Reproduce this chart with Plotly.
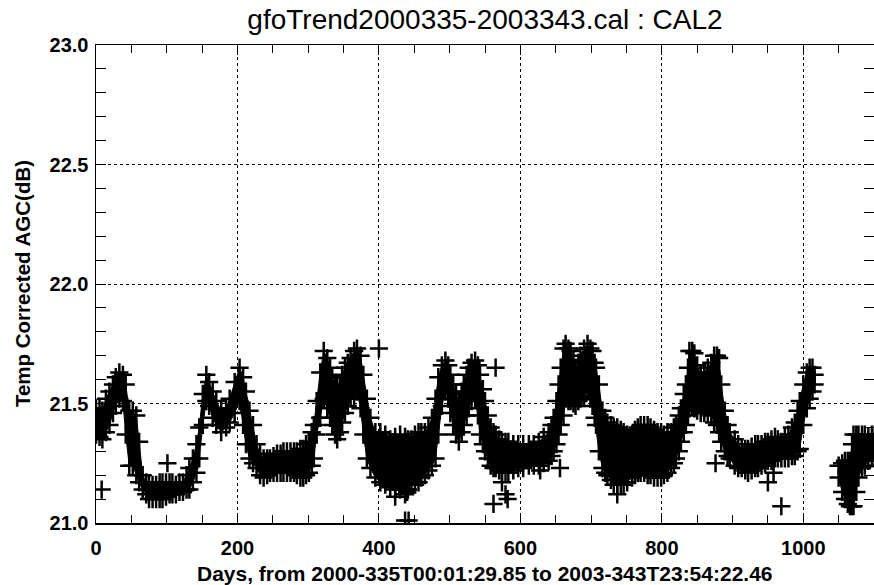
import plotly.graph_objects as go

# ---- data (days since start, dB) ----
days_a = [0, 5, 9, 14, 19, 24, 28, 33, 38, 42,
          47, 52, 57, 61, 66, 71, 75, 80, 85, 90,
          94, 99, 104, 108, 113, 118, 123, 128, 132, 137,
          142, 146, 151, 156, 160, 165, 170, 177, 184, 189,
          196, 203, 208, 212, 217, 222, 227, 232, 237, 242,
          246, 251, 256, 261, 265, 270, 275, 280, 284, 289,
          293, 297, 301, 305, 308, 312, 317, 322, 327, 331,
          334, 338, 341, 345, 348, 352, 356, 360, 365, 369,
          374, 378, 383, 388, 395, 402, 409, 416, 423, 430,
          437, 441, 446, 451, 456, 460, 465, 470, 475, 480,
          484, 489, 494, 498, 501, 505, 509, 513, 517, 520,
          524, 527, 531, 536, 540, 543, 547, 550, 554, 558,
          562, 565, 570, 574, 579, 583, 590, 597, 604, 612,
          619, 626, 633, 640, 644, 647, 651, 654, 657, 661,
          664, 668, 671, 675, 678, 682, 685, 690, 695, 699,
          702, 705, 707, 711, 716, 720, 723, 728, 732, 737,
          742, 746, 751, 758, 762, 766, 770, 775, 780, 784,
          789, 794, 799, 803, 808, 813, 817, 820, 824, 827,
          831, 834, 837, 839, 843, 846, 850, 855, 860, 865,
          870, 874, 878, 881, 884, 889, 893, 896, 903, 908,
          913, 918, 922, 927, 932, 936, 941, 946, 950, 955,
          960, 964, 969, 974, 979, 984, 988, 992, 995, 1000,
          1005, 1009, 1013, 1016]

hi_a = [21.48, 21.48, 21.47, 21.52, 21.55, 21.58, 21.61, 21.63, 21.62, 21.58,
        21.47, 21.47, 21.45, 21.34, 21.20, 21.17, 21.16, 21.16, 21.16, 21.17,
        21.17, 21.17, 21.17, 21.17, 21.16, 21.17, 21.17, 21.20, 21.23, 21.27,
        21.33, 21.40, 21.54, 21.62, 21.59, 21.55, 21.51, 21.47, 21.48, 21.52,
        21.59, 21.65, 21.61, 21.55, 21.47, 21.41, 21.33, 21.29, 21.27, 21.27,
        21.27, 21.28, 21.29, 21.29, 21.30, 21.30, 21.30, 21.30, 21.30, 21.31,
        21.31, 21.33, 21.34, 21.38, 21.41, 21.51, 21.63, 21.72, 21.69, 21.65,
        21.61, 21.58, 21.57, 21.58, 21.62, 21.65, 21.67, 21.69, 21.72, 21.73,
        21.70, 21.62, 21.52, 21.44, 21.38, 21.38, 21.37, 21.35, 21.36, 21.37,
        21.36, 21.35, 21.35, 21.37, 21.38, 21.38, 21.38, 21.40, 21.44, 21.52,
        21.61, 21.66, 21.68, 21.66, 21.62, 21.58, 21.54, 21.51, 21.55, 21.58,
        21.62, 21.65, 21.67, 21.68, 21.66, 21.62, 21.56, 21.51, 21.45, 21.40,
        21.38, 21.37, 21.35, 21.34, 21.34, 21.34, 21.33, 21.33, 21.33, 21.33,
        21.33, 21.34, 21.36, 21.38, 21.41, 21.44, 21.51, 21.58, 21.65, 21.73,
        21.75, 21.73, 21.72, 21.68, 21.65, 21.67, 21.70, 21.73, 21.75, 21.73,
        21.72, 21.67, 21.65, 21.58, 21.47, 21.44, 21.42, 21.41, 21.40, 21.40,
        21.39, 21.38, 21.37, 21.37, 21.39, 21.40, 21.41, 21.41, 21.41, 21.40,
        21.39, 21.38, 21.38, 21.37, 21.38, 21.38, 21.40, 21.41, 21.45, 21.48,
        21.54, 21.58, 21.65, 21.72, 21.72, 21.71, 21.66, 21.62, 21.63, 21.65,
        21.67, 21.70, 21.70, 21.69, 21.58, 21.47, 21.41, 21.38, 21.35, 21.33,
        21.31, 21.31, 21.31, 21.32, 21.33, 21.33, 21.33, 21.34, 21.34, 21.35,
        21.36, 21.35, 21.34, 21.36, 21.37, 21.40, 21.42, 21.47, 21.51, 21.58,
        21.63, 21.65, 21.65, 21.62]

lo_a = [21.37, 21.36, 21.35, 21.38, 21.41, 21.46, 21.49, 21.52, 21.51, 21.37,
        21.24, 21.24, 21.20, 21.17, 21.14, 21.12, 21.10, 21.10, 21.10, 21.10,
        21.10, 21.11, 21.12, 21.12, 21.12, 21.13, 21.13, 21.14, 21.14, 21.17,
        21.21, 21.27, 21.41, 21.51, 21.49, 21.44, 21.41, 21.38, 21.40, 21.42,
        21.46, 21.51, 21.41, 21.33, 21.27, 21.25, 21.23, 21.20, 21.19, 21.20,
        21.21, 21.21, 21.21, 21.21, 21.21, 21.21, 21.21, 21.21, 21.20, 21.19,
        21.19, 21.20, 21.21, 21.24, 21.27, 21.37, 21.44, 21.52, 21.48, 21.44,
        21.41, 21.37, 21.35, 21.38, 21.42, 21.46, 21.49, 21.52, 21.53, 21.55,
        21.48, 21.37, 21.27, 21.23, 21.19, 21.17, 21.16, 21.15, 21.14, 21.14,
        21.14, 21.14, 21.16, 21.16, 21.17, 21.19, 21.20, 21.22, 21.24, 21.27,
        21.37, 21.49, 21.55, 21.52, 21.46, 21.41, 21.37, 21.34, 21.38, 21.41,
        21.45, 21.48, 21.51, 21.52, 21.45, 21.37, 21.33, 21.30, 21.27, 21.24,
        21.23, 21.23, 21.22, 21.21, 21.21, 21.21, 21.22, 21.23, 21.23, 21.24,
        21.24, 21.24, 21.25, 21.26, 21.28, 21.30, 21.33, 21.37, 21.41, 21.45,
        21.52, 21.51, 21.51, 21.50, 21.49, 21.51, 21.52, 21.53, 21.55, 21.52,
        21.49, 21.44, 21.41, 21.30, 21.23, 21.21, 21.20, 21.18, 21.16, 21.16,
        21.16, 21.16, 21.17, 21.19, 21.20, 21.21, 21.21, 21.21, 21.20, 21.20,
        21.19, 21.19, 21.19, 21.20, 21.21, 21.23, 21.25, 21.27, 21.30, 21.34,
        21.38, 21.41, 21.45, 21.48, 21.49, 21.48, 21.47, 21.46, 21.46, 21.46,
        21.45, 21.42, 21.41, 21.38, 21.34, 21.30, 21.28, 21.27, 21.24, 21.23,
        21.23, 21.22, 21.21, 21.22, 21.23, 21.23, 21.24, 21.25, 21.26, 21.26,
        21.27, 21.27, 21.27, 21.27, 21.27, 21.28, 21.28, 21.30, 21.31, 21.41,
        21.48, 21.52, 21.55, 21.58]

days_b = [1050, 1055, 1059, 1063, 1066, 1069, 1071, 1075, 1078, 1083, 1087, 1092, 1097, 1101]
hi_b = [21.24, 21.25, 21.26, 21.26, 21.26, 21.33, 21.37, 21.37, 21.37, 21.37, 21.37, 21.36, 21.37, 21.37]
lo_b = [21.19, 21.13, 21.10, 21.08, 21.07, 21.07, 21.07, 21.13, 21.19, 21.23, 21.24, 21.26, 21.27, 21.27]

out_days = [8, 101, 400, 423, 437, 440, 437, 442, 562, 565, 574, 579, 582, 628, 656, 737, 876, 950, 958, 969]
out_vals = [21.14, 21.25, 21.73, 21.11, 21.12, 21.13, 21.01, 21.01, 21.08, 21.65,
            21.17, 21.12, 21.10, 21.22, 21.23, 21.12, 21.25, 21.17, 21.21, 21.07]

x_ticks = [0, 200, 400, 600, 800, 1000]
y_ticks = [21.0, 21.5, 22.0, 22.5, 23.0]
x_range = [0, 1100]
y_range = [21.0, 23.0]

title_text = "gfoTrend2000335-2003343.cal : CAL2"
x_title = "Days, from 2000-335T00:01:29.85 to 2003-343T23:54:22.46"
y_title = "Temp Corrected AGC(dB)"

FONT = "Liberation Sans, Arial, Helvetica, sans-serif"
CROSS = dict(symbol="cross-thin", size=13, color="black", line=dict(width=2.5, color="black"))

W, H = 874, 585

fig = go.Figure()

# dense band of measurements (solid mass of '+' markers in the reference)
for d, hi, lo in [(days_a, hi_a, lo_a), (days_b, hi_b, lo_b)]:
    fig.add_trace(go.Scatter(
        x=d + d[::-1], y=hi + lo[::-1], mode="lines", fill="toself",
        fillcolor="black", line=dict(width=1, color="black"), hoverinfo="skip"))
    fig.add_trace(go.Scatter(x=d + d, y=hi + lo, mode="markers", marker=CROSS))

fig.add_trace(go.Scatter(x=out_days, y=out_vals, mode="markers", marker=CROSS))

# invisible trace for the top/right tick axes
fig.add_trace(go.Scatter(x=x_range, y=y_range, xaxis="x2", yaxis="y2",
                         mode="markers", marker=dict(opacity=0), hoverinfo="skip"))

axis_common = dict(
    showline=True, linecolor="black", linewidth=1.5,
    ticks="inside", tickcolor="black", tickwidth=1, ticklen=10,
    showgrid=True, gridcolor="black", gridwidth=1, griddash="dot",
    zeroline=False, automargin=False,
    tickfont=dict(family=FONT, size=20, color="black", weight="bold"),
)

fig.update_layout(
    xaxis=dict(range=x_range, tickvals=x_ticks, ticktext=[str(v) for v in x_ticks],
               minor=dict(dtick=50, tick0=0, ticks="inside", ticklen=8,
                          tickcolor="black", showgrid=False),
               ticklabelstandoff=6, **axis_common),
    yaxis=dict(range=y_range, tickvals=y_ticks, ticktext=[f"{v:.1f}" for v in y_ticks],
               minor=dict(dtick=0.1, tick0=21.0, ticks="inside", ticklen=10,
                          tickcolor="black", showgrid=False),
               ticklabelstandoff=2, **axis_common),
    xaxis2=dict(range=x_range, overlaying="x", side="top", anchor="y",
                showline=True, linecolor="black", linewidth=1.5,
                tickvals=x_ticks, ticks="inside", ticklen=10, tickcolor="black",
                showticklabels=False, showgrid=False, zeroline=False,
                minor=dict(dtick=50, tick0=0, ticks="inside", ticklen=8,
                           tickcolor="black", showgrid=False)),
    yaxis2=dict(range=y_range, overlaying="y", side="right", anchor="x",
                showline=True, linecolor="black", linewidth=1.5,
                tickvals=y_ticks, ticks="inside", ticklen=10, tickcolor="black",
                showticklabels=False, showgrid=False, zeroline=False,
                minor=dict(dtick=0.1, tick0=21.0, ticks="inside", ticklen=10,
                           tickcolor="black", showgrid=False)),
    width=W, height=H,
    margin=dict(l=96, r=0, t=45, b=62, autoexpand=False),
    plot_bgcolor="white", paper_bgcolor="white",
    showlegend=False,
    hovermode=False,
    font=dict(family=FONT, color="black"),
    title=dict(text=title_text, x=0.5, xref="paper", xanchor="center",
               y=1 - 19 / H, yref="container", yanchor="middle",
               font=dict(family=FONT, size=28, color="black")),
    annotations=[
        dict(text=x_title, xref="paper", yref="paper", x=0.5, y=-0.105,
             xanchor="center", yanchor="middle", showarrow=False,
             font=dict(family=FONT, size=21, color="black", weight="bold")),
        dict(text=y_title, xref="paper", yref="paper", x=-0.095, y=0.5,
             xanchor="center", yanchor="middle", showarrow=False, textangle=-90,
             font=dict(family=FONT, size=20.5, color="black", weight="bold")),
    ],
)

# remove the browser's default 8px body margin so the figure fills the window
fig.write_html("out.html",
               config={"displayModeBar": False, "staticPlot": True},
               post_script="document.body.style.margin='0px';document.body.style.overflow='hidden';")
